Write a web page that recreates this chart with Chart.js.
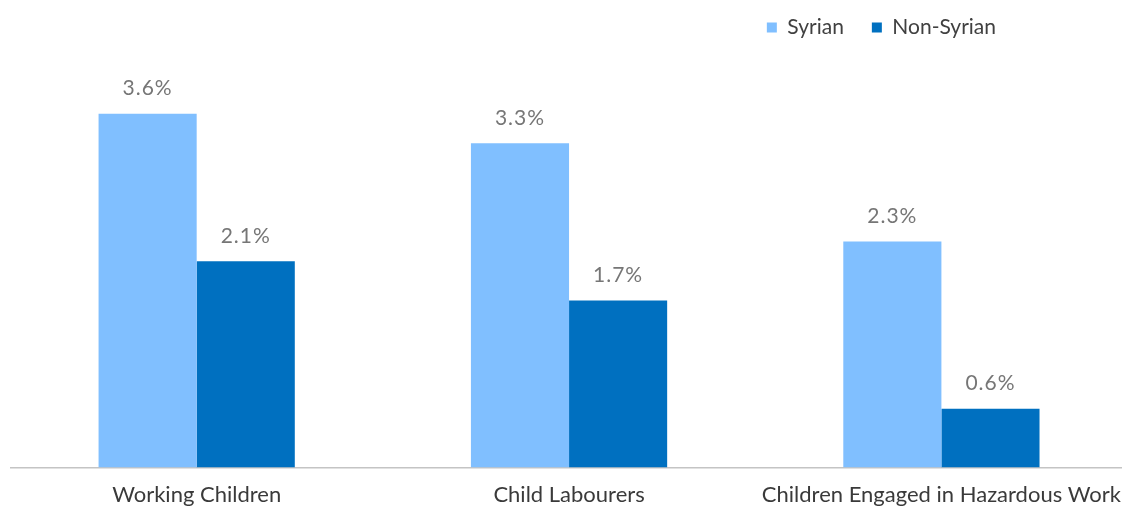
<!DOCTYPE html>
<html>
<head>
<meta charset="utf-8">
<script src="https://cdn.jsdelivr.net/npm/chart.js@4"></script>
<style>
  html, body { margin: 0; padding: 0; background: #ffffff; overflow: hidden; }
  #wrap { position: relative; width: 1135px; height: 507px; }
</style>
</head>
<body>
<div id="wrap"><canvas id="barChart"></canvas></div>
<script>
// chart data
const categories = ['Working Children', 'Child Labourers', 'Children Engaged in Hazardous Work'];
const syrianValues = [3.6, 3.3, 2.3];
const nonSyrianValues = [2.1, 1.7, 0.6];
const seriesNames = ['Syrian', 'Non-Syrian'];

const LIGHT_BLUE = '#80bfff';
const DARK_BLUE = '#0070c0';

// draws the "x.x%" text above each bar
const valueLabels = {
    id: 'valueLabels',
    afterDatasetsDraw(chart) {
        const ctx = chart.ctx;
        ctx.save();
        ctx.font = '21px Lato';
        ctx.letterSpacing = '1px';
        ctx.fillStyle = '#767676';
        ctx.textAlign = 'center';
        ctx.textBaseline = 'bottom';
        chart.data.datasets.forEach((ds, i) => {
            chart.getDatasetMeta(i).data.forEach((bar, j) => {
                ctx.fillText(ds.data[j].toFixed(1) + '%', bar.x, bar.y - 15);
            });
        });
        ctx.restore();
    }
};

// pull the legend in from the right edge
const legendShift = {
    id: 'legendShift',
    afterLayout(chart) {
        chart.legend.right = 1024;
    }
};

const chart = new Chart(document.getElementById('barChart'), {
    type: 'bar',
    data: {
        labels: categories,
        datasets: [
            { label: seriesNames[0], data: syrianValues, backgroundColor: LIGHT_BLUE },
            { label: seriesNames[1], data: nonSyrianValues, backgroundColor: DARK_BLUE }
        ]
    },
    options: {
        responsive: true,
        maintainAspectRatio: false,
        animation: false,
        layout: { padding: { left: 10.5, right: 0, top: -11, bottom: -15 } },
        datasets: {
            bar: { categoryPercentage: 0.527, barPercentage: 1.0 }
        },
        plugins: {
            legend: {
                position: 'top',
                align: 'end',
                labels: {
                    boxWidth: 10,
                    boxHeight: 10,
                    padding: 28,
                    color: '#404040',
                    font: { family: 'Lato', size: 21 }
                }
            },
            tooltip: { enabled: false }
        },
        scales: {
            x: {
                grid: { display: false, drawTicks: false },
                border: { display: true, color: '#c4c4c4', width: 1.5 },
                ticks: {
                    color: '#3a3a3a',
                    padding: 14,
                    maxRotation: 0,
                    font: { family: 'Lato', size: 22 }
                }
            },
            y: {
                display: false,
                min: 0,
                max: 4.27
            }
        }
    },
    plugins: [valueLabels, legendShift]
});
</script>
</body>
</html>
